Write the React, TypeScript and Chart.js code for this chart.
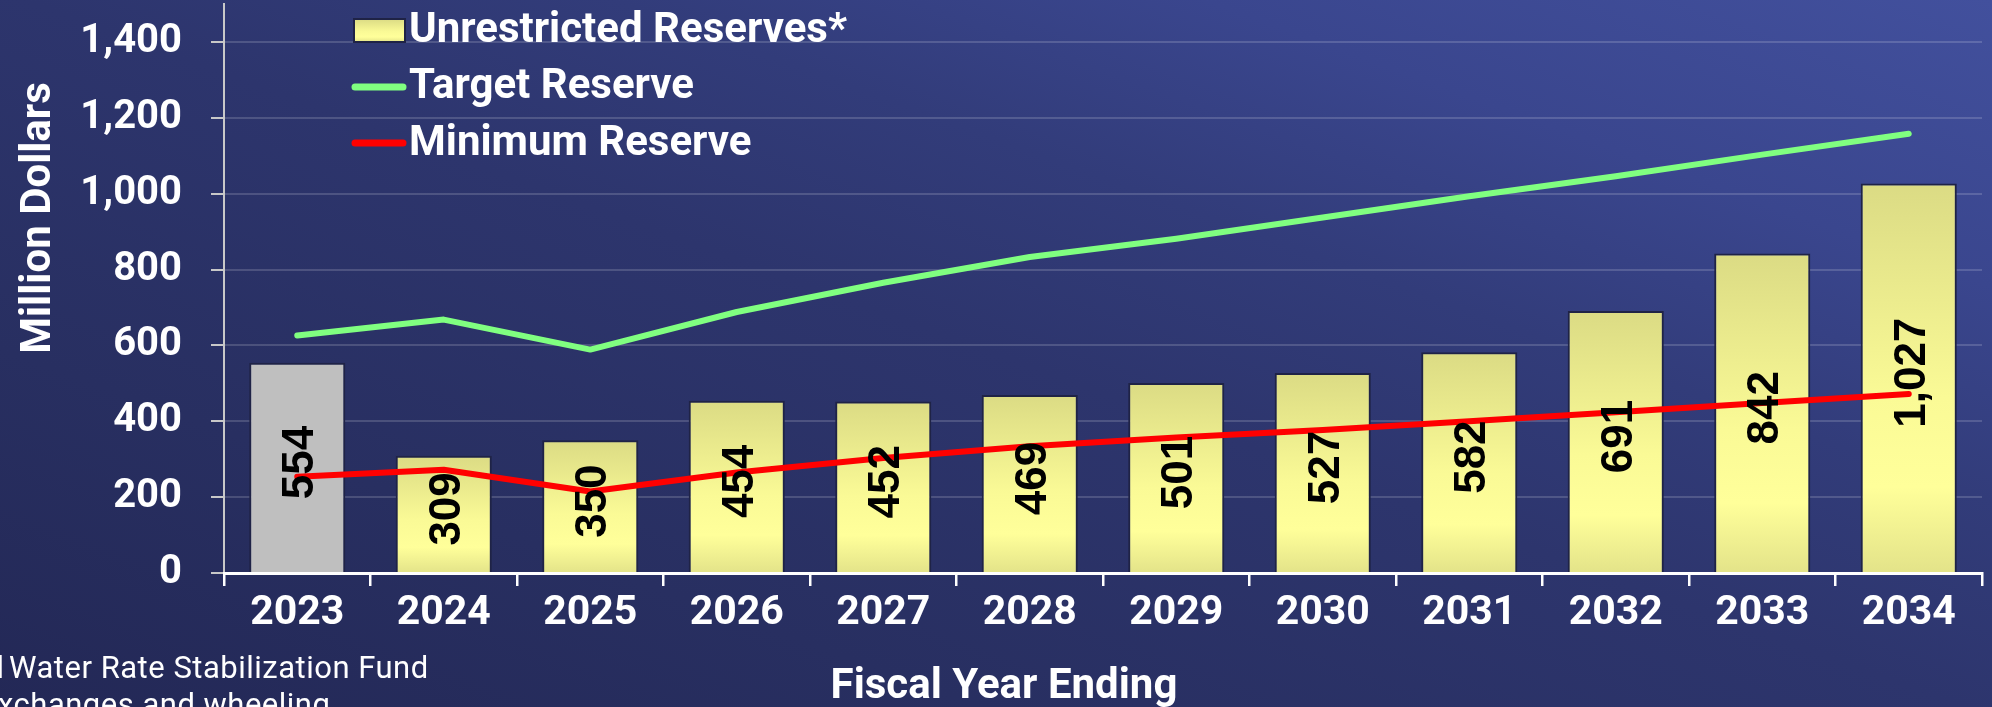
import React, { useEffect, useRef } from 'react';
import { Chart, registerables } from 'chart.js';

Chart.register(...registerables);

const years = ['2023', '2024', '2025', '2026', '2027', '2028', '2029', '2030', '2031', '2032', '2033', '2034'];
const unrestricted = [554, 309, 350, 454, 452, 469, 501, 527, 582, 691, 842, 1027];
const targetReserve = [626, 668, 589, 688, 765, 833, 881, 937, 993, 1046, 1103, 1158];
const minimumReserve = [254, 272, 215, 265, 303, 334, 357, 377, 400, 424, 448, 472];
const yTickValues = [0, 200, 400, 600, 800, 1000, 1200, 1400];

const seriesLabels = ['Unrestricted Reserves*', 'Target Reserve', 'Minimum Reserve'];
const yAxisTitle = 'Million Dollars';
const xAxisTitle = 'Fiscal Year Ending';
const footnoteLine1Start = 'l';
const footnoteLine1 = 'Water Rate Stabilization Fund';
const footnoteLine2 = 'xchanges and wheeling';

const GREEN = '#80ff80';
const RED = '#ff0000';
const GREY_BAR = '#bfbfbf';
const BAR_BORDER = '#1f2346';
const ROBOTO_BOLD = (s: number) => `bold ${s}px Roboto, "Noto Sans", sans-serif`;

function yellowGradient(ctx: CanvasRenderingContext2D, top: number, bottom: number) {
  const g = ctx.createLinearGradient(0, top, 0, bottom);
  g.addColorStop(0, '#dbdb84');
  g.addColorStop(0.55, '#fafa96');
  g.addColorStop(0.78, '#ffff9a');
  g.addColorStop(1, '#e3e389');
  return g;
}

const barLabelPlugin = {
  id: 'barLabels',
  afterDatasetsDraw(chart: any) {
    const meta = chart.getDatasetMeta(0);
    const ctx: CanvasRenderingContext2D = chart.ctx;
    meta.data.forEach((bar: any, i: number) => {
      const { x, y, base } = bar.getProps(['x', 'y', 'base'], true);
      const cy = (y + base) / 2 - 5;
      ctx.save();
      ctx.translate(x, cy);
      ctx.rotate(-Math.PI / 2);
      ctx.font = 'bold 44px "Liberation Sans", Arial, sans-serif';
      ctx.fillStyle = '#000000';
      ctx.textAlign = 'center';
      ctx.textBaseline = 'alphabetic';
      ctx.fillText(unrestricted[i].toLocaleString('en-US'), 0, 16);
      ctx.restore();
    });
  },
};

const decorPlugin = {
  id: 'decor',
  afterDraw(chart: any) {
    const ctx: CanvasRenderingContext2D = chart.ctx;
    ctx.save();
    // Legend
    const boxX = 354, boxY = 19, boxW = 51, boxH = 23;
    ctx.fillStyle = yellowGradient(ctx, boxY, boxY + boxH);
    ctx.fillRect(boxX, boxY, boxW, boxH);
    ctx.strokeStyle = BAR_BORDER;
    ctx.lineWidth = 2;
    ctx.strokeRect(boxX, boxY, boxW, boxH);
    ctx.lineCap = 'round';
    ctx.lineWidth = 7;
    ctx.strokeStyle = GREEN;
    ctx.beginPath();
    ctx.moveTo(355, 87);
    ctx.lineTo(403, 87);
    ctx.stroke();
    ctx.strokeStyle = RED;
    ctx.beginPath();
    ctx.moveTo(355, 143);
    ctx.lineTo(403, 143);
    ctx.stroke();
    ctx.fillStyle = '#ffffff';
    ctx.font = ROBOTO_BOLD(42);
    ctx.textAlign = 'left';
    ctx.textBaseline = 'alphabetic';
    const baselines = [42, 98, 155];
    seriesLabels.forEach((t, i) => ctx.fillText(t, 409, baselines[i]));

    // Y axis title
    ctx.save();
    ctx.translate(50, 218);
    ctx.rotate(-Math.PI / 2);
    ctx.textAlign = 'center';
    ctx.font = ROBOTO_BOLD(42);
    ctx.fillText(yAxisTitle, 0, 0);
    ctx.restore();

    // X axis title
    ctx.textAlign = 'center';
    ctx.font = ROBOTO_BOLD(42);
    ctx.fillText(xAxisTitle, 1004, 698);

    // Footnote
    ctx.textAlign = 'left';
    ctx.font = '31px Roboto, "Noto Sans", sans-serif';
    try {
      (ctx as any).letterSpacing = '0.5px';
    } catch (e) {}
    ctx.fillText(footnoteLine1Start, -3.5, 678);
    ctx.fillText(footnoteLine1, 9, 678);
    ctx.fillText(footnoteLine2, -2, 715);
    ctx.restore();
  },
};

export default function App() {
  const canvasRef = useRef<HTMLCanvasElement>(null);

  useEffect(() => {
    const canvas = canvasRef.current;
    if (!canvas) return;
    const chart = new Chart(canvas, {
      type: 'bar',
      data: {
        labels: years,
        datasets: [
          {
            type: 'bar',
            label: seriesLabels[0],
            data: unrestricted,
            order: 10,
            backgroundColor: (c: any) => {
              const ch = c.chart;
              if (c.dataIndex === 0) return GREY_BAR;
              if (!ch.chartArea || c.dataIndex === undefined) return '#ffff99';
              const ys = ch.scales.y;
              const top = ys.getPixelForValue(unrestricted[c.dataIndex]);
              const bottom = ys.getPixelForValue(0);
              return yellowGradient(ch.ctx, top, bottom);
            },
            borderColor: BAR_BORDER,
            borderWidth: 2,
            borderSkipped: 'start',
            barPercentage: 0.656,
            categoryPercentage: 1,
          } as any,
          {
            type: 'line',
            label: seriesLabels[1],
            data: targetReserve,
            order: 2,
            borderColor: GREEN,
            backgroundColor: GREEN,
            borderWidth: 6,
            pointRadius: 0,
            pointHoverRadius: 0,
            tension: 0,
            borderCapStyle: 'round',
            borderJoinStyle: 'round',
            fill: false,
          } as any,
          {
            type: 'line',
            label: seriesLabels[2],
            data: minimumReserve,
            order: 1,
            borderColor: RED,
            backgroundColor: RED,
            borderWidth: 6,
            pointRadius: 0,
            pointHoverRadius: 0,
            tension: 0,
            borderCapStyle: 'round',
            borderJoinStyle: 'round',
            fill: false,
          } as any,
        ],
      },
      options: {
        animation: false,
        responsive: true,
        maintainAspectRatio: false,
        layout: { padding: { left: 0, right: 10, top: 4, bottom: 0 } },
        plugins: {
          legend: { display: false },
          tooltip: { enabled: false },
          title: { display: false },
        },
        scales: {
          x: {
            type: 'category',
            offset: true,
            grid: {
              offset: true,
              drawOnChartArea: false,
              drawTicks: true,
              color: '#ffffff',
              tickColor: '#ffffff',
              tickLength: 13,
              lineWidth: 2.5,
              tickWidth: 2.5,
            },
            border: { display: true, color: '#ffffff', width: 3, z: 1 },
            ticks: {
              color: '#ffffff',
              font: { family: 'Roboto, "Noto Sans", sans-serif', size: 41, weight: 'bold' },
              padding: 3,
              maxRotation: 0,
              autoSkip: false,
            },
            afterFit: (scale: any) => {
              scale.height = 134;
              scale.paddingLeft = 0;
              scale.paddingRight = 0;
            },
          },
          y: {
            type: 'linear',
            min: 0,
            max: 1500,
            afterBuildTicks: (scale: any) => {
              scale.ticks = yTickValues.map((v) => ({ value: v }));
            },
            afterFit: (scale: any) => {
              scale.width = 224;
              scale.paddingTop = 0;
              scale.paddingBottom = 0;
            },
            grid: {
              color: 'rgba(255,255,255,0.16)',
              lineWidth: 2,
              tickColor: '#c8c8c8',
              tickLength: 13,
              tickWidth: 2,
              drawTicks: true,
            },
            border: { display: true, color: '#c8c8c8', width: 2 },
            ticks: {
              color: '#ffffff',
              font: { family: 'Roboto, "Noto Sans", sans-serif', size: 40, weight: 'bold' },
              padding: 29,
              callback: (v: any) => Number(v).toLocaleString('en-US'),
            },
          },
        },
      } as any,
      plugins: [barLabelPlugin, decorPlugin],
    });
    return () => chart.destroy();
  }, []);

  return (
    <div
      style={{
        position: 'fixed',
        left: 0,
        top: 0,
        width: 1992,
        height: 707,
        background:
          'linear-gradient(200deg, #42509d 0%, #3a468e 20%, #323c7a 35%, #2d356d 50%, #282f61 75%, #232856 100%)',
      }}
    >
      <canvas ref={canvasRef} />
    </div>
  );
}
